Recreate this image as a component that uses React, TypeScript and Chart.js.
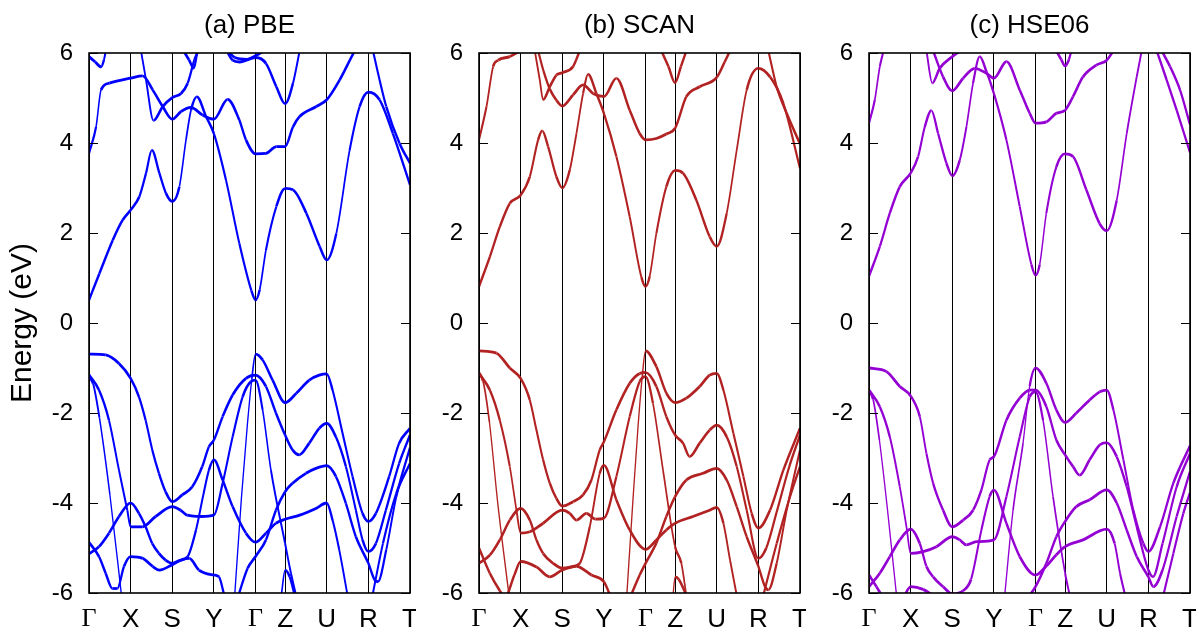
import React, { useEffect, useRef } from 'react';
import { Chart, registerables } from 'chart.js';

Chart.register(...registerables);

// ---- axes / labels ----
const K_POS = [0, 1, 2, 3, 4, 4.71, 5.71, 6.71, 7.71];
const K_LABELS = ['Γ', 'X', 'S', 'Y', 'Γ', 'Z', 'U', 'R', 'T'];
const Y_TICKS = [-6, -4, -2, 0, 2, 4, 6];
const TITLES = ['(a) PBE', '(b) SCAN', '(c) HSE06'];
const COLORS = ['#0000ff', '#b22222', '#9400d3'];
const Y_TITLE = 'Energy (eV)';

// ---- (a) PBE bands: [k, E(eV)] ----
const PBE_BANDS = [
  [[0,0.51],[0.25,1.10],[0.57,1.84],[0.81,2.29],[1,2.51],[1.21,2.81],[1.37,3.33],[1.51,3.84],[1.69,3.33],[1.85,2.88],[2,2.70],[2.17,3.03],[2.33,4.07],[2.45,4.73],[2.59,5.03],[2.81,4.59],[3,4.21],[3.29,3.18],[3.61,1.77],[3.9,0.72],[4,0.51],[4.1,0.74],[4.25,1.62],[4.5,2.59],[4.71,2.99],[4.9,2.96],[5.22,2.44],[5.54,1.70],[5.71,1.40],[5.94,1.99],[6.26,3.84],[6.5,4.81],[6.71,5.13],[6.98,4.96],[7.3,4.21],[7.71,3.07]],
  [[0,3.77],[0.17,4.36],[0.29,5.18],[0.49,5.33],[1,5.44],[1.29,5.49],[1.53,5.18],[1.77,4.81],[2,4.53],[2.21,4.70],[2.45,4.79],[2.73,4.62],[3,4.53],[3.33,4.97],[3.61,4.51],[3.77,4.07],[4,3.76],[4.25,3.77],[4.5,3.92],[4.71,3.92],[4.9,4.36],[5.06,4.59],[5.46,4.81],[5.71,4.96],[6.02,5.40],[6.35,5.99],[6.42,6.1]],
  [[1.24,6.1],[1.37,5.4],[1.55,4.50],[1.77,4.81],[2,5.01],[2.21,5.10],[2.37,5.33],[2.53,5.84],[2.63,6.07]],
  [[2.27,6.05],[2.4,5.85],[2.52,5.66],[2.58,5.9],[2.62,6.1]],
  [[0,5.92],[0.15,5.8],[0.29,5.69],[0.36,5.85],[0.41,6.08]],
  [[3.29,6.08],[3.45,5.84],[3.62,5.8],[4,5.9],[4.25,5.77],[4.5,5.25],[4.71,4.87],[4.9,5.33],[5.06,6.05]],
  [[3.3,6.08],[3.5,5.9],[3.8,5.86],[4,5.94],[4.2,6.05]],
  [[6.82,6.05],[6.98,5.4],[7.14,4.81],[7.46,3.99],[7.71,3.55]],
  [[3.5,-6.05],[3.66,-3.9],[3.8,-2.3],[3.91,-1.25],[4,-0.69],[4.17,-0.82],[4.41,-1.27],[4.71,-1.77],[4.98,-1.56],[5.29,-1.27],[5.53,-1.16],[5.71,-1.13],[5.85,-1.49],[6.09,-2.45],[6.33,-3.41],[6.57,-4.23],[6.71,-4.41],[6.89,-4.23],[7.21,-3.41],[7.45,-2.67],[7.71,-2.34]],
  [[0,-0.69],[0.4,-0.71],[0.72,-0.90],[1,-1.23],[1.2,-1.64],[1.36,-2.16],[1.52,-2.82],[1.68,-3.34],[1.84,-3.75],[2,-3.97],[2.24,-3.82],[2.48,-3.64],[2.72,-3.19],[2.88,-2.75],[3,-2.6],[3.21,-2.08],[3.45,-1.6],[3.77,-1.23],[4,-1.16],[4.25,-1.41],[4.49,-2.0],[4.71,-2.49],[4.89,-2.82],[5.05,-2.93],[5.29,-2.67],[5.53,-2.34],[5.71,-2.23],[5.93,-2.53],[6.17,-3.19],[6.41,-4.16],[6.57,-4.82],[6.71,-5.08],[6.89,-4.9],[7.13,-4.16],[7.45,-3.12],[7.71,-2.49]],
  [[0,-1.15],[0.24,-1.49],[0.48,-2.16],[0.72,-3.27],[0.92,-4.16],[1,-4.53],[1.28,-4.53],[1.6,-4.3],[2,-4.08],[2.2,-4.16],[2.36,-4.27],[2.7,-4.3],[3,-4.27],[3.21,-3.56],[3.45,-2.53],[3.69,-1.64],[3.89,-1.3],[4,-1.27],[4.17,-1.93],[4.37,-3.27],[4.71,-4.9],[4.85,-5.56],[4.97,-6.05]],
  [[0,-5.13],[0.24,-4.97],[0.48,-4.67],[0.72,-4.3],[1,-4.0],[1.2,-4.23],[1.36,-4.53],[1.52,-4.9],[1.68,-5.12],[1.84,-5.27],[2,-5.34],[2.17,-5.28],[2.37,-5.19],[2.57,-4.6],[2.75,-3.8],[2.88,-3.27],[3,-3.04],[3.21,-3.49],[3.45,-4.08],[3.77,-4.67],[4,-4.87],[4.25,-4.67],[4.49,-4.45],[4.71,-4.36],[5.06,-4.27],[5.45,-4.12],[5.71,-4.0],[5.85,-4.38],[6.01,-5.04],[6.21,-6.05]],
  [[0,-4.87],[0.24,-5.19],[0.4,-5.56],[0.56,-5.9],[0.68,-5.9],[0.84,-5.41],[1,-5.19],[1.29,-5.23],[1.53,-5.41],[1.69,-5.49],[2,-5.37],[2.25,-5.25],[2.41,-5.23],[2.64,-5.49],[3,-5.6],[3.12,-5.64],[3.25,-6.05]],
  [[0,-1.2],[0.1,-1.35],[0.25,-2.1],[0.5,-3.8],[0.78,-6.05]],
  [[3.59,-6.05],[3.81,-5.45],[4,-5.19],[4.25,-4.82],[4.49,-4.16],[4.71,-3.75],[4.89,-3.56],[5.21,-3.34],[5.45,-3.23],[5.71,-3.17],[5.93,-3.41],[6.17,-4.01],[6.41,-4.75],[6.71,-5.34],[6.86,-5.71],[6.94,-5.75],[7.14,-5.04],[7.38,-3.86],[7.71,-2.77]],
  [[6.81,-6.05],[7.06,-4.9],[7.38,-3.79],[7.71,-3.12]],
  [[4.62,-6.05],[4.71,-5.49],[4.82,-5.64],[4.94,-6.05]],
];

// ---- (b) SCAN bands ----
const SCAN_BANDS = [
  [[0,0.81],[0.26,1.47],[0.5,2.14],[0.74,2.66],[1,2.84],[1.22,3.25],[1.42,4.07],[1.52,4.27],[1.66,3.92],[1.86,3.25],[2,3.0],[2.18,3.4],[2.34,4.21],[2.5,5.1],[2.62,5.53],[2.82,5.1],[3,4.66],[3.3,3.7],[3.62,2.36],[3.9,1.02],[4,0.81],[4.1,1.04],[4.26,1.99],[4.5,3.03],[4.71,3.39],[4.9,3.33],[5.22,2.73],[5.54,1.92],[5.71,1.70],[5.95,2.44],[6.19,3.84],[6.43,5.18],[6.71,5.66],[6.99,5.47],[7.31,4.88],[7.71,3.44]],
  [[0,4.07],[0.18,4.81],[0.34,5.7],[0.46,5.84],[0.74,5.92],[0.98,6.05]],
  [[1.42,6.05],[1.55,5.6],[1.7,5.2],[1.86,4.95],[2,4.82],[2.26,5.07],[2.5,5.29],[2.74,5.1],[3,5.03],[3.3,5.44],[3.62,4.73],[3.86,4.21],[4,4.07],[4.26,4.1],[4.5,4.2],[4.71,4.33],[4.98,5.03],[5.3,5.25],[5.71,5.46],[5.9,5.8],[6.03,6.05]],
  [[1.34,6.05],[1.46,5.4],[1.54,4.96],[1.7,5.25],[1.86,5.51],[2,5.56],[2.26,5.7],[2.42,6.05]],
  [[4.38,6.05],[4.55,5.7],[4.71,5.34],[4.85,5.7],[4.98,6.05]],
  [[6.95,6.05],[7.15,5.25],[7.39,4.66],[7.71,3.98]],
  [[3.55,-6.05],[3.7,-3.9],[3.82,-2.3],[3.92,-1.2],[4,-0.62],[4.26,-0.97],[4.5,-1.56],[4.71,-1.77],[4.98,-1.67],[5.3,-1.41],[5.54,-1.16],[5.71,-1.12],[5.87,-1.49],[6.11,-2.45],[6.35,-3.41],[6.55,-4.23],[6.71,-4.56],[6.99,-4.16],[7.31,-3.27],[7.71,-2.34]],
  [[0,-0.62],[0.42,-0.67],[0.74,-1.0],[1,-1.23],[1.22,-1.71],[1.38,-2.38],[1.54,-3.04],[1.7,-3.56],[1.86,-3.9],[2,-4.07],[2.26,-3.97],[2.5,-3.82],[2.7,-3.49],[2.9,-2.82],[3,-2.64],[3.3,-1.93],[3.62,-1.34],[3.86,-1.12],[4,-1.1],[4.26,-1.41],[4.5,-2.08],[4.71,-2.49],[4.9,-2.67],[5.06,-2.97],[5.3,-2.67],[5.54,-2.38],[5.71,-2.27],[5.95,-2.53],[6.19,-3.19],[6.43,-4.16],[6.71,-5.23],[6.9,-5.0],[7.15,-4.2],[7.45,-3.2],[7.71,-2.49]],
  [[0,-1.12],[0.26,-1.49],[0.5,-2.16],[0.74,-3.19],[0.9,-4.16],[1,-4.67],[1.22,-4.64],[1.54,-4.45],[2,-4.16],[2.18,-4.23],[2.34,-4.38],[2.58,-4.23],[2.8,-4.36],[3,-4.34],[3.3,-3.41],[3.62,-2.08],[3.86,-1.3],[4,-1.19],[4.18,-1.79],[4.42,-3.27],[4.71,-4.97],[4.86,-5.34],[4.98,-6.05]],
  [[0,-5.34],[0.26,-5.16],[0.5,-4.82],[0.74,-4.38],[1,-4.12],[1.22,-4.38],[1.38,-4.82],[1.54,-5.12],[1.78,-5.34],[2,-5.45],[2.26,-5.41],[2.42,-5.34],[2.66,-4.53],[2.9,-3.34],[3,-3.16],[3.3,-3.93],[3.62,-4.6],[4,-5.03],[4.26,-4.82],[4.5,-4.6],[4.71,-4.45],[5.14,-4.3],[5.54,-4.16],[5.71,-4.1],[5.87,-4.45],[6.03,-5.27],[6.19,-6.05]],
  [[0,-5.0],[0.26,-5.56],[0.5,-5.95],[0.62,-6.1],[0.85,-5.6],[1,-5.3],[1.38,-5.42],[1.7,-5.64],[2,-5.49],[2.34,-5.41],[2.7,-5.6],[3,-5.75],[3.15,-6.05]],
  [[0,-1.1],[0.1,-1.3],[0.25,-2.2],[0.45,-4.0],[0.72,-6.05]],
  [[3.65,-6.05],[3.86,-5.6],[4,-5.34],[4.26,-4.89],[4.5,-4.3],[4.71,-3.86],[4.98,-3.49],[5.38,-3.34],[5.71,-3.23],[5.95,-3.49],[6.19,-4.08],[6.43,-4.75],[6.71,-5.41],[6.87,-5.86],[6.95,-5.93],[7.15,-5.34],[7.39,-4.16],[7.71,-2.82]],
  [[6.83,-6.05],[7.15,-4.9],[7.47,-3.86],[7.71,-3.19]],
  [[4.66,-6.05],[4.71,-5.64],[4.8,-5.7],[4.98,-6.05]],
];

// ---- (c) HSE06 bands ----
const HSE_BANDS = [
  [[0,1.04],[0.26,1.7],[0.5,2.44],[0.74,3.03],[1,3.33],[1.18,3.7],[1.34,4.36],[1.5,4.72],[1.66,4.21],[1.86,3.55],[2,3.27],[2.18,3.62],[2.34,4.36],[2.5,5.33],[2.66,5.92],[2.82,5.59],[3,5.1],[3.3,4.07],[3.62,2.59],[3.9,1.3],[4,1.06],[4.1,1.3],[4.26,2.44],[4.5,3.47],[4.71,3.76],[4.9,3.7],[5.22,2.96],[5.54,2.21],[5.71,2.05],[5.95,2.73],[6.19,4.21],[6.43,5.47],[6.55,6.05]],
  [[0,4.44],[0.14,4.96],[0.26,5.7],[0.35,6.05]],
  [[1.38,6.05],[1.52,5.33],[1.7,5.66],[2,5.92],[2.2,6.05]],
  [[1.54,6.05],[1.78,5.47],[2,5.16],[2.26,5.44],[2.54,5.66],[2.82,5.55],[3,5.44],[3.3,5.81],[3.62,5.18],[3.86,4.66],[4,4.44],[4.26,4.47],[4.5,4.66],[4.71,4.73],[4.9,5.03],[5.14,5.47],[5.46,5.73],[5.71,5.84],[5.87,6.05]],
  [[4.5,6.05],[4.62,5.85],[4.71,5.71],[4.8,5.85],[4.86,6.05]],
  [[6.91,6.05],[7.15,5.4],[7.39,4.73],[7.71,3.79]],
  [[7.03,6.05],[7.23,5.7],[7.47,5.18],[7.71,4.41]],
  [[3.26,-6.05],[3.46,-4.16],[3.7,-2.67],[3.86,-1.4],[4,-1.0],[4.26,-1.34],[4.5,-1.93],[4.71,-2.21],[4.98,-2.0],[5.3,-1.71],[5.54,-1.53],[5.71,-1.49],[5.87,-1.93],[6.11,-3.04],[6.35,-4.16],[6.59,-4.9],[6.71,-5.08],[6.99,-4.53],[7.31,-3.56],[7.71,-2.73]],
  [[0,-1.0],[0.42,-1.08],[0.74,-1.41],[1,-1.62],[1.22,-2.08],[1.38,-2.9],[1.54,-3.56],[1.78,-4.16],[2,-4.53],[2.26,-4.38],[2.5,-4.16],[2.7,-3.71],[2.9,-3.04],[3,-2.97],[3.3,-2.16],[3.62,-1.67],[3.86,-1.49],[4,-1.49],[4.26,-1.86],[4.5,-2.6],[4.71,-2.93],[4.9,-3.19],[5.06,-3.38],[5.3,-3.04],[5.54,-2.71],[5.71,-2.66],[5.95,-2.97],[6.19,-3.64],[6.43,-4.53],[6.71,-5.49],[6.82,-5.64],[7.05,-4.9],[7.39,-3.64],[7.71,-2.9]],
  [[0,-1.49],[0.26,-1.86],[0.5,-2.53],[0.74,-3.64],[0.9,-4.53],[1,-5.12],[1.3,-5.08],[1.62,-4.97],[2,-4.75],[2.18,-4.82],[2.34,-4.93],[2.58,-4.86],[3,-4.82],[3.3,-3.86],[3.62,-2.53],[3.86,-1.64],[4,-1.53],[4.18,-2.16],[4.42,-3.86],[4.71,-5.56],[4.82,-6.05]],
  [[0,-5.86],[0.26,-5.56],[0.5,-5.19],[0.74,-4.82],[1,-4.58],[1.22,-4.9],[1.38,-5.41],[1.54,-5.64],[1.78,-5.86],[2,-6.02],[2.26,-5.95],[2.45,-5.7],[2.7,-4.6],[2.9,-3.85],[3,-3.71],[3.3,-4.45],[3.62,-5.19],[4,-5.6],[4.26,-5.4],[4.5,-5.15],[4.71,-4.97],[5.14,-4.82],[5.71,-4.58],[5.9,-4.9],[6.03,-5.56],[6.15,-6.05]],
  [[0,-5.6],[0.18,-5.86],[0.34,-6.1],[0.6,-6.3],[0.85,-6.05],[1,-5.86],[1.3,-5.92],[1.6,-6.1]],
  [[0,-1.5],[0.1,-1.7],[0.25,-2.6],[0.45,-4.2],[0.66,-6.05]],
  [[3.86,-6.05],[4,-5.86],[4.26,-5.34],[4.5,-4.75],[4.71,-4.41],[4.98,-4.08],[5.3,-3.93],[5.71,-3.71],[5.95,-4.0],[6.19,-4.6],[6.43,-5.19],[6.71,-5.64],[6.83,-5.86],[7.05,-5.49],[7.39,-4.3],[7.71,-3.3]],
  [[7.07,-6.05],[7.31,-5.12],[7.55,-4.23],[7.71,-3.77]],
];

const ALL_BANDS = [PBE_BANDS, SCAN_BANDS, HSE_BANDS];

const SANS = "'Liberation Sans', Arial, Helvetica, sans-serif";
const SERIF = "'Liberation Serif', 'Times New Roman', serif";

const CANVAS_W = 416;
const CANVAS_H = 634;
const PANEL_LEFTS = [0, 390, 780];

const framePlugin = {
  id: 'frameTicks',
  afterDraw(chart: any) {
    const { ctx, chartArea } = chart;
    const ys = chart.scales.y;
    ctx.save();
    ctx.strokeStyle = '#000';
    ctx.lineWidth = 1;
    Y_TICKS.forEach((v) => {
      const y = Math.round(ys.getPixelForValue(v)) + 0.5;
      ctx.beginPath();
      ctx.moveTo(chartArea.left, y);
      ctx.lineTo(chartArea.left + 9, y);
      ctx.moveTo(chartArea.right - 9, y);
      ctx.lineTo(chartArea.right, y);
      ctx.stroke();
    });
    ctx.lineWidth = 1.6;
    ctx.strokeRect(chartArea.left, chartArea.top, chartArea.right - chartArea.left, chartArea.bottom - chartArea.top);
    ctx.restore();
  },
};

// steeper band segments look thinner in the reference (sparser sampled points)
const segWidth = (c: any) => {
  const dx = Math.abs(c.p1.parsed.x - c.p0.parsed.x) || 1e-6;
  const dy = Math.abs(c.p1.parsed.y - c.p0.parsed.y);
  const s = dy / dx;
  return Math.max(1.35, Math.min(2.8, 2.9 - 0.2 * s));
};

function Panel({ index }: { index: number }) {
  const ref = useRef<HTMLCanvasElement>(null);
  useEffect(() => {
    const bands = ALL_BANDS[index];
    const chart = new Chart(ref.current as HTMLCanvasElement, {
      type: 'line',
      data: {
        datasets: bands.map((b: number[][]) => ({
          data: b.map(([x, y]) => ({ x, y })),
          borderColor: COLORS[index],
          backgroundColor: COLORS[index],
          borderWidth: 2.6,
          pointRadius: 0,
          fill: false,
          cubicInterpolationMode: 'monotone',
          segment: { borderWidth: segWidth },
        })),
      },
      options: {
        animation: false,
        responsive: false,
        events: [],
        layout: { padding: { left: 0, right: 6, top: 0, bottom: 0 } },
        plugins: {
          legend: { display: false },
          tooltip: { enabled: false },
          title: {
            display: true,
            fullSize: false,
            text: TITLES[index],
            color: '#000',
            font: { family: SANS, size: 26, weight: 'normal' },
            padding: { top: 10, bottom: 11.8 },
          },
        },
        scales: {
          x: {
            type: 'linear',
            min: 0,
            max: K_POS[K_POS.length - 1],
            afterBuildTicks: (s: any) => {
              s.ticks = K_POS.map((v) => ({ value: v }));
            },
            afterFit: (s: any) => {
              s.height = 41;
              s.paddingLeft = 0;
              s.paddingRight = 0;
            },
            ticks: {
              autoSkip: false,
              maxRotation: 0,
              minRotation: 0,
              padding: 11,
              color: '#000',
              callback: (_v: any, i: number) => K_LABELS[i],
              font: (c: any) => ({
                family: K_LABELS[c.index] === 'Γ' ? SERIF : SANS,
                size: 26,
              }),
            },
            grid: { color: '#000', lineWidth: 1, drawTicks: false },
            border: { display: false },
          },
          y: {
            min: -6,
            max: 6,
            afterBuildTicks: (s: any) => {
              s.ticks = Y_TICKS.map((v) => ({ value: v }));
            },
            afterFit: (s: any) => {
              s.width = 89;
              s.paddingTop = 0;
              s.paddingBottom = 0;
            },
            ticks: {
              color: '#000',
              padding: 16,
              font: { family: SANS, size: 24 },
            },
            grid: { display: false, drawTicks: false },
            border: { display: false },
            title: {
              display: index === 0,
              text: Y_TITLE,
              color: '#000',
              font: { family: SANS, size: 30, weight: 'normal' },
              padding: { top: 5, bottom: 0 },
            },
          },
        },
      },
      plugins: [framePlugin],
    } as any);
    return () => chart.destroy();
  }, [index]);
  return (
    <canvas
      ref={ref}
      width={CANVAS_W}
      height={CANVAS_H}
      style={{ position: 'absolute', left: PANEL_LEFTS[index], top: 0, width: CANVAS_W, height: CANVAS_H }}
    />
  );
}

export default function App() {
  return (
    <div style={{ position: 'absolute', left: 0, top: 0, width: 1199, height: 634, background: '#fff', overflow: 'hidden' }}>
      <Panel index={0} />
      <Panel index={1} />
      <Panel index={2} />
    </div>
  );
}
